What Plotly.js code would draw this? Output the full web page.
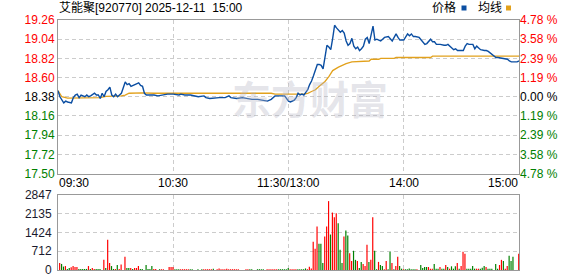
<!DOCTYPE html>
<html><head><meta charset="utf-8">
<script src="https://cdn.plot.ly/plotly-3.0.1.min.js"></script>
<style>html,body{margin:0;padding:0;background:#fff}#chart{width:578px;height:276px}</style>
</head><body><div id="chart"></div>
<script>
const titleText = '艾能聚[920770]\u00A02025-12-11\u00A0\u00A015:00';
const legendNames = ['价格', '均线'];
const preClose = 18.38;
const priceTicks = [17.50, 17.72, 17.94, 18.16, 18.38, 18.60, 18.82, 19.04, 19.26];
const pctLabels = ['4.78 %','3.58 %','2.39 %','1.19 %','0.00 %','1.19 %','2.39 %','3.58 %','4.78 %'];
const volTicks = [0, 712, 1424, 2135, 2847];
const timeTicks = [0, 60, 120, 180, 240];
const timeLabels = ['09:30','10:30','11:30/13:00','14:00','15:00'];

const priceMin = [0,1,3,4,5,7,8,9,10,11,12,14,15,16,17,19,20,21,22,23,24,25,26,27,28,29,30,31,33,34,35,36,37,38,40,41,42,43,44,45,46,48,50,52,55,57,60,63,64,66,69,71,73,76,77,79,82,84,87,89,90,93,96,98,101,104,106,109,111,113,116,118,120,121,123,124,125,126,127,128,129,130,131,132,133,134,135,136,137,138,139,140,141,142,143,144,145,146,147,148,149,150,151,152,153,154,155,156,157,158,159,160,161,162,163,164,165,166,167,168,169,170,172,173,174,175,176,177,178,180,181,182,183,184,185,186,188,189,190,191,192,193,194,195,196,197,199,201,202,203,204,205,206,207,208,210,211,212,213,214,216,217,218,219,220,222,223,224,226,227,228,229,231,232,234,235,236,237,239,240];
const priceVal = [18.45,18.38,18.31,18.33,18.32,18.31,18.37,18.40,18.41,18.37,18.40,18.38,18.40,18.38,18.39,18.42,18.40,18.40,18.36,18.42,18.38,18.44,18.46,18.49,18.40,18.38,18.41,18.38,18.42,18.48,18.55,18.52,18.53,18.50,18.52,18.53,18.54,18.51,18.50,18.42,18.40,18.40,18.40,18.39,18.40,18.41,18.41,18.40,18.41,18.40,18.40,18.39,18.38,18.39,18.37,18.36,18.37,18.37,18.37,18.39,18.37,18.36,18.37,18.36,18.35,18.35,18.34,18.33,18.35,18.39,18.39,18.39,18.33,18.32,18.34,18.37,18.42,18.40,18.41,18.40,18.43,18.46,18.52,18.56,18.62,18.69,18.75,18.75,18.74,18.70,18.86,18.97,18.95,18.92,19.05,19.20,19.17,19.15,19.12,19.14,19.11,19.02,18.97,18.99,19.05,18.96,18.93,18.95,18.91,18.93,18.96,19.04,19.06,18.99,19.08,19.19,19.03,19.04,19.03,19.02,19.04,19.06,19.07,19.05,19.02,19.06,19.10,19.06,19.03,19.03,19.07,19.10,19.08,19.10,19.07,19.07,19.06,19.03,19.01,18.98,18.99,19.01,19.04,19.01,19.01,18.98,18.98,18.97,18.97,18.98,18.96,18.95,18.92,18.93,18.91,18.91,18.91,18.96,18.99,18.98,18.98,18.93,18.96,18.94,18.92,18.91,18.91,18.90,18.87,18.85,18.83,18.83,18.82,18.82,18.81,18.79,18.78,18.78,18.78,18.79];

const avgMin = [0,2,5,16,22,25,33,35,37,44,50,111,113,128,130,132,134,136,139,141,143,146,148,150,153,156,162,163,167,168,175,176,194,195,240];
const avgVal = [18.45,18.38,18.365,18.365,18.37,18.385,18.39,18.40,18.42,18.425,18.42,18.42,18.41,18.41,18.42,18.44,18.46,18.50,18.555,18.61,18.68,18.72,18.74,18.76,18.78,18.785,18.79,18.81,18.81,18.82,18.82,18.83,18.83,18.845,18.845];

const vol = [
270,230,130,150,40,77,100,150,115,115,
40,40,40,40,40,150,40,77,40,40,
40,40,0,385,77,1150,270,150,40,40,
190,40,205,0,500,77,77,77,40,77,
77,150,40,40,0,190,40,40,150,40,
40,0,30,30,30,0,0,115,115,115,
30,30,30,30,30,30,30,30,30,30,
0,0,30,0,30,30,30,30,30,30,
50,0,30,60,30,30,30,50,30,30,
30,30,30,30,0,0,0,30,30,30,
30,0,0,30,30,30,30,0,30,30,
30,30,30,30,30,30,30,30,30,77,
30,30,30,30,30,30,30,30,60,30,
128,60,1077,808,1654,1000,1000,270,1270,1654,
2615,1346,2180,2000,2154,1770,770,270,1270,1500,
1308,640,346,730,385,346,77,308,230,154,
960,308,385,2000,730,30,308,190,154,30,
346,30,692,270,30,154,500,154,50,30,
30,30,60,30,30,30,30,0,190,77,
115,115,115,50,50,230,50,50,115,50,
50,190,115,50,140,50,140,270,50,154,
692,615,50,50,50,154,50,50,50,50,
90,154,115,50,50,50,0,230,50,190,
385,346,50,154,540,346,500,0,0,615,
0];
const volUp = [
1,-1,-1,1,-1,-1,1,1,1,1,
-1,-1,-1,-1,-1,1,-1,1,1,-1,
-1,-1,1,1,-1,1,1,-1,-1,1,
-1,1,1,1,1,-1,-1,1,-1,1,
1,1,-1,-1,-1,-1,-1,-1,-1,1,
1,1,-1,1,1,1,1,1,1,1,
-1,-1,-1,1,1,1,1,1,-1,-1,
1,1,-1,1,-1,1,1,1,1,1,
-1,1,1,1,1,1,1,1,1,1,
1,1,1,1,1,1,1,1,1,-1,
-1,1,1,-1,-1,-1,-1,1,1,1,
1,1,1,1,-1,-1,-1,-1,-1,-1,
1,1,1,1,-1,-1,-1,-1,-1,1,
1,1,1,1,1,-1,-1,-1,1,1,
1,-1,1,1,1,-1,-1,-1,1,-1,
-1,1,1,-1,-1,1,-1,-1,1,1,
1,-1,1,1,-1,-1,1,-1,-1,1,
1,-1,-1,1,-1,1,1,-1,-1,1,
-1,-1,-1,-1,-1,-1,1,1,-1,-1,
-1,-1,1,1,1,-1,-1,-1,1,-1,
-1,1,-1,1,-1,-1,-1,1,-1,1,
1,1,-1,-1,-1,-1,-1,1,1,-1,
-1,-1,1,-1,-1,-1,1,-1,-1,1,
1,-1,1,1,-1,-1,-1,1,1,1,
1];

const RED = '#ff0000', GREEN = '#008000', BLUE = '#0b4ea2', GOLD = '#e2a11c';
const FONT = 'Liberation Sans, Arial, Noto Sans CJK SC, sans-serif';
function tickColor(v){ return v > preClose + 1e-9 ? RED : (v < preClose - 1e-9 ? GREEN : '#000'); }
const leftText = priceTicks.map(v => `<span style="color:${tickColor(v)}">${v.toFixed(2)}</span>`);
const rightText = priceTicks.map((v,i) => `<span style="color:${tickColor(v)}">${pctLabels[i]}</span>`);
const volX = vol.map((_, i) => i);

const traces = [
  {x: avgMin, y: avgVal, type: 'scatter', mode: 'lines', xaxis: 'x', yaxis: 'y',
   line: {color: GOLD, width: 1.3}, hoverinfo: 'skip'},
  {x: priceMin, y: priceVal, type: 'scatter', mode: 'lines', xaxis: 'x', yaxis: 'y2',
   line: {color: BLUE, width: 1.4}, hoverinfo: 'skip'},
  {x: volX, y: vol, type: 'bar', xaxis: 'x2', yaxis: 'y3', width: 0.62, offset: 0.55,
   marker: {color: volUp.map(d => d > 0 ? RED : GREEN), line: {width: 0}}, hoverinfo: 'skip'}
];

const gridStyle = {gridcolor: '#cccccc', griddash: '4px,3px', gridwidth: 1};
const frame = {showline: true, mirror: true, linecolor: '#999999', linewidth: 1, zeroline: false};
const px2x = p => (p - 58) / 461;
const px2y = p => (270 - p) / 250;

const annotations = timeLabels.map((t, i) => ({
  x: timeTicks[i], xref: 'x', y: 0.348, yref: 'paper', text: t, showarrow: false,
  xanchor: i === 0 ? 'left' : (i === timeLabels.length - 1 ? 'right' : 'center'),
  yanchor: 'middle', font: {family: FONT, size: 12, color: '#000'}, borderpad: 0
}));
annotations.push({x: px2x(58), xref: 'paper', y: px2y(8), yref: 'paper', text: titleText, showarrow: false,
  xanchor: 'left', yanchor: 'middle', font: {family: FONT, size: 12, color: '#000'}, borderpad: 0});
annotations.push({x: px2x(431), xref: 'paper', y: px2y(8), yref: 'paper', text: legendNames[0], showarrow: false,
  xanchor: 'left', yanchor: 'middle', font: {family: FONT, size: 12, color: '#000'}, borderpad: 0});
annotations.push({x: px2x(477), xref: 'paper', y: px2y(8), yref: 'paper', text: legendNames[1], showarrow: false,
  xanchor: 'left', yanchor: 'middle', font: {family: FONT, size: 12, color: '#000'}, borderpad: 0});
annotations.push({x: px2x(310), xref: 'paper', y: px2y(97), yref: 'paper', showarrow: false,
  text: '<b>东方财富</b>', xanchor: 'center', yanchor: 'middle',
  font: {family: 'Noto Sans CJK SC, sans-serif', size: 39, color: 'rgba(180,180,195,0.36)'}});

const shapes = [
  {type: 'rect', xref: 'paper', yref: 'paper', x0: px2x(461.5), x1: px2x(466.5), y0: px2y(10.5), y1: px2y(5.5),
   fillcolor: BLUE, line: {width: 0}},
  {type: 'rect', xref: 'paper', yref: 'paper', x0: px2x(506), x1: px2x(511), y0: px2y(10.5), y1: px2y(5.5),
   fillcolor: GOLD, line: {width: 0}}
];

const layout = {
  width: 578, height: 276,
  margin: {l: 58, r: 59, t: 20, b: 6, pad: 0},
  paper_bgcolor: '#fff', plot_bgcolor: '#fff',
  showlegend: false,
  font: {family: FONT, size: 12, color: '#000'},
  xaxis: Object.assign({domain: [0, 1], anchor: 'y', range: [0, 240], tickvals: timeTicks,
    showticklabels: false, ticks: '', showgrid: true}, gridStyle, frame),
  yaxis: Object.assign({domain: [0.386, 1], anchor: 'x', range: [17.50, 19.26], tickvals: priceTicks,
    ticktext: leftText, ticks: '', showgrid: true, ticklabeloverflow: 'allow',
    tickfont: {family: FONT, size: 12}}, gridStyle, frame),
  yaxis2: {overlaying: 'y', side: 'right', anchor: 'x', range: [17.50, 19.26], tickvals: priceTicks,
    ticktext: rightText, ticks: '', showgrid: false, zeroline: false, showline: false,
    ticklabeloverflow: 'allow', tickfont: {family: FONT, size: 12}},
  xaxis2: Object.assign({domain: [0, 1], anchor: 'y3', range: [0, 240], tickvals: timeTicks,
    showticklabels: false, ticks: '', showgrid: true}, gridStyle, frame),
  yaxis3: Object.assign({domain: [0, 0.3], anchor: 'x2', range: [0, 2847], tickvals: volTicks,
    ticktext: volTicks.map(String), ticks: '', showgrid: true, ticklabeloverflow: 'allow',
    ticklabelstandoff: 3, tickfont: {family: FONT, size: 12, color: '#1a1a2e'}}, gridStyle, frame),
  annotations: annotations,
  shapes: shapes
};

Plotly.newPlot('chart', traces, layout, {staticPlot: true, displayModeBar: false});
</script>
</body></html>
